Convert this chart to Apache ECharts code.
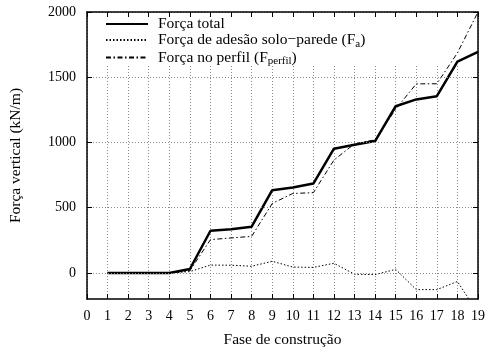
<!DOCTYPE html>
<html>
<head>
<meta charset="utf-8">
<script src="https://cdn.jsdelivr.net/npm/echarts@6/dist/echarts.min.js"></script>
<style>
  html, body { margin: 0; padding: 0; background: #fff; }
  #chart { width: 489px; height: 353px; }
</style>
</head>
<body>
<div id="chart"></div>
<script>
// Construction phases (x) and vertical forces in kN/m
var phases = [1, 2, 3, 4, 5, 6, 7, 8, 9, 10, 11, 12, 13, 14, 15, 16, 17, 18, 19];
var forcaTotal = [0, 0, 0, 0, 30, 323, 334, 354, 634, 655, 685, 952, 983, 1011, 1278, 1330, 1355, 1620, 1694];
var forcaAdesao = [0, 0, 0, 0, 10, 60, 59, 51, 89, 45, 42, 74, -10, -13, 27, -128, -128, -66, -306];
var forcaPerfil = [0, 0, 0, 0, 18, 255, 268, 280, 532, 609, 615, 865, 990, 1020, 1255, 1449, 1450, 1686, 2000];
var yTickValues = [0, 500, 1000, 1500, 2000];

var serif = 'Liberation Serif, Times New Roman, serif';

function pairs(ys) {
  return phases.map(function (x, i) { return [x, ys[i]]; });
}

var names = ['Força total', 'Força de adesão solo−parede (Fa)', 'Força no perfil (Fperfil)'];
var legendRich = [
  '{n|Força total}',
  '{n|Força de adesão solo−parede (F}{s|a}{n|)}',
  '{n|Força no perfil (F}{s|perfil}{n|)}'
];

var chart = echarts.init(document.getElementById('chart'), null, { renderer: 'canvas' });

var frame = { show: true, onZero: false, lineStyle: { color: '#000', width: 1.5 } };
var tickIn = { show: true, inside: true, length: 5, lineStyle: { color: '#000', width: 1 } };
var gridDots = { show: true, lineStyle: { color: '#8a8a8a', width: 1, type: [1, 2] } };
var plain = function (v) { return String(v); };

chart.setOption({
  animation: false,
  backgroundColor: '#fff',
  grid: { left: 86, right: 11, top: 12, bottom: 53 },
  legend: {
    orient: 'vertical',
    left: 105,
    top: 16,
    padding: 0,
    itemWidth: 42,
    itemHeight: 13.5,
    itemGap: 0,
    data: names,
    itemStyle: { opacity: 0 },
    formatter: function (name) { return legendRich[names.indexOf(name)]; },
    textStyle: {
      padding: [0, 0, 0, 5],
      rich: {
        n: { fontFamily: serif, fontSize: 15.5, color: '#000', lineHeight: 13.5 },
        s: { fontFamily: serif, fontSize: 11, color: '#000', padding: [8, 0, 0, 0] }
      }
    }
  },
  // opaque key area: hides the vertical grid behind the legend, under the curves
  graphic: [{
    type: 'rect',
    z: 1,
    shape: { x: 88, y: 13, width: 388, height: 51 },
    style: { fill: '#fff' },
    silent: true
  }],
  xAxis: [{
    type: 'value', min: 0, max: 19, interval: 1, position: 'bottom',
    name: 'Fase de construção', nameLocation: 'middle', nameGap: 33,
    nameTextStyle: { fontFamily: serif, fontSize: 15.5, color: '#000' },
    axisLine: frame, axisTick: tickIn, splitLine: gridDots,
    axisLabel: { fontFamily: serif, fontSize: 14, color: '#000', margin: 10, formatter: plain }
  }, {
    type: 'value', min: 0, max: 19, interval: 1, position: 'top', z: 5,
    axisLine: frame, axisTick: tickIn, splitLine: { show: false },
    axisLabel: { show: false }
  }],
  yAxis: [{
    type: 'value', min: -200, max: 2000, position: 'left', z: 5,
    name: 'Força vertical (kN/m)', nameLocation: 'middle', nameGap: 63,
    nameTextStyle: { fontFamily: serif, fontSize: 15.5, color: '#000' },
    axisLine: frame,
    axisTick: Object.assign({ customValues: yTickValues }, tickIn),
    splitLine: gridDots,
    axisLabel: { fontFamily: serif, fontSize: 14, color: '#000', margin: 11, customValues: yTickValues, formatter: plain }
  }, {
    type: 'value', min: -200, max: 2000, position: 'right', z: 5,
    axisLine: frame,
    axisTick: Object.assign({ customValues: yTickValues }, tickIn),
    splitLine: { show: false },
    axisLabel: { show: false }
  }],
  series: [{
    name: names[0], type: 'line', data: pairs(forcaTotal), symbol: 'none', clip: true, z: 4,
    lineStyle: { color: '#000', width: 2.5 }, itemStyle: { color: '#000' }
  }, {
    name: names[1], type: 'line', data: pairs(forcaAdesao), symbol: 'none', clip: true, z: 3,
    lineStyle: { color: '#000', width: 1, type: [1.5, 2] }, itemStyle: { color: '#000' }
  }, {
    name: names[2], type: 'line', data: pairs(forcaPerfil), symbol: 'none', clip: true, z: 3,
    lineStyle: { color: '#000', width: 1, type: [5, 2.5, 1.5, 2.5] }, itemStyle: { color: '#000' }
  }]
});
</script>
</body>
</html>
